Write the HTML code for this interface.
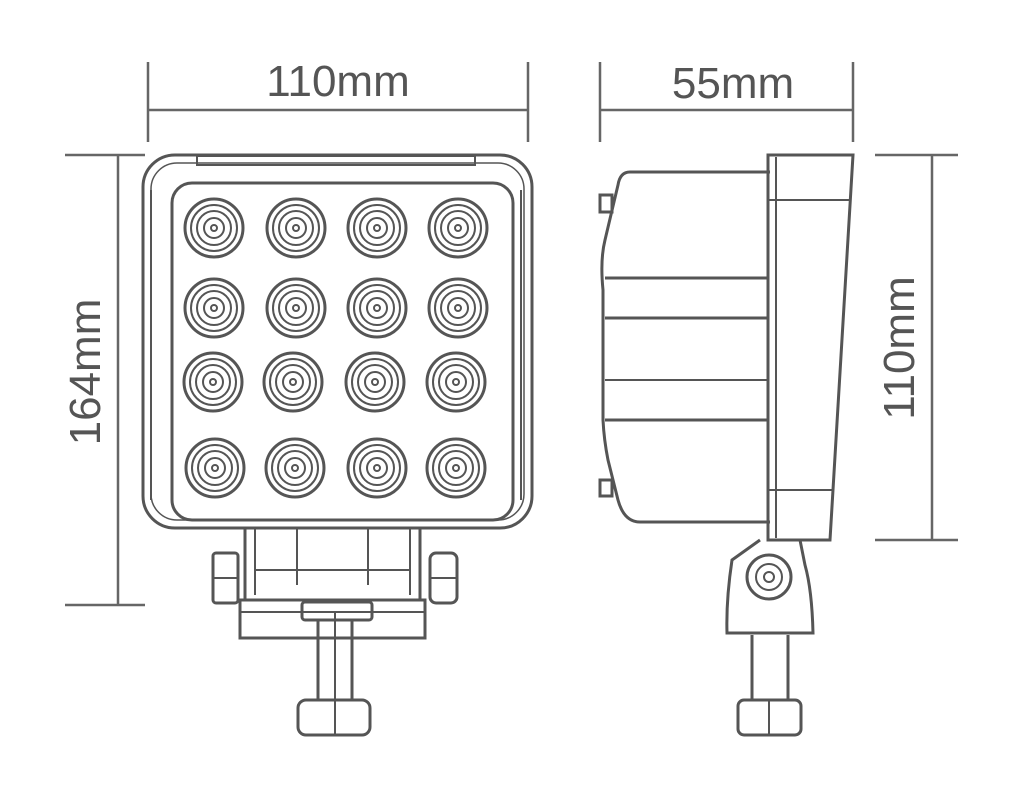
<!DOCTYPE html>
<html><head><meta charset="utf-8"><style>
html,body{margin:0;padding:0;background:#fff;}
svg{display:block;}
text{font-family:"Liberation Sans",sans-serif;fill:#555;}
</style></head><body>
<svg width="1020" height="800" viewBox="0 0 1020 800" xmlns="http://www.w3.org/2000/svg">
<defs>
<g id="led" fill="none" stroke="#555">
<circle cx="0" cy="0" r="29" stroke-width="3"/>
<circle cx="0" cy="0" r="23" stroke-width="2"/>
<circle cx="0" cy="0" r="17" stroke-width="2"/>
<circle cx="0" cy="0" r="10" stroke-width="2"/>
<circle cx="0" cy="0" r="3" stroke-width="2"/>
</g>
</defs>
<g stroke="#666" stroke-width="2.5" fill="none">
<line x1="148" y1="62" x2="148" y2="142"/><line x1="528" y1="62" x2="528" y2="142"/><line x1="148" y1="110" x2="528" y2="110"/>
<line x1="600" y1="62" x2="600" y2="142"/><line x1="853" y1="62" x2="853" y2="142"/><line x1="600" y1="110" x2="853" y2="110"/>
<line x1="65" y1="155" x2="145" y2="155"/><line x1="65" y1="605" x2="145" y2="605"/><line x1="118" y1="155" x2="118" y2="605"/>
<line x1="875" y1="155" x2="958" y2="155"/><line x1="875" y1="540" x2="958" y2="540"/><line x1="932" y1="155" x2="932" y2="540"/>
</g>
<text x="338" y="96" font-size="44" text-anchor="middle">110mm</text>
<text x="733" y="98" font-size="44" text-anchor="middle">55mm</text>
<text transform="translate(100,372) rotate(-90)" font-size="44" text-anchor="middle">164mm</text>
<text transform="translate(914,348) rotate(-90)" font-size="44" text-anchor="middle">110mm</text>

<g stroke="#555" stroke-width="3" fill="none">
<rect x="143" y="155" width="389" height="373" rx="32"/>
<rect x="151" y="163" width="373" height="357" rx="26" stroke-width="1.5"/>
<rect x="172" y="183" width="341" height="337" rx="20"/>
<rect x="197" y="156" width="278" height="9" stroke-width="2"/>
<line x1="151" y1="190" x2="151" y2="500" stroke-width="2"/>
<line x1="521" y1="190" x2="521" y2="500" stroke-width="2"/>
<line x1="245" y1="528" x2="245" y2="600"/><line x1="420" y1="528" x2="420" y2="600"/>
<line x1="255" y1="528" x2="255" y2="595" stroke-width="2"/><line x1="410" y1="528" x2="410" y2="595" stroke-width="2"/>
<line x1="297" y1="528" x2="297" y2="585" stroke-width="2"/><line x1="368" y1="528" x2="368" y2="585" stroke-width="2"/>
<line x1="255" y1="570" x2="410" y2="570" stroke-width="2"/>
<rect x="213" y="553" width="25" height="50" rx="3"/>
<line x1="213" y1="578" x2="238" y2="578" stroke-width="2"/>
<rect x="430" y="553" width="27" height="50" rx="6"/>
<line x1="430" y1="578" x2="457" y2="578" stroke-width="2"/>
<rect x="240" y="600" width="185" height="38"/>
<line x1="240" y1="612" x2="425" y2="612" stroke-width="2"/>
<rect x="302" y="602" width="70" height="18" rx="3"/>
<line x1="318" y1="620" x2="318" y2="700"/><line x1="352" y1="620" x2="352" y2="700"/>
<line x1="335" y1="612" x2="335" y2="735" stroke-width="2"/>
<rect x="298" y="700" width="72" height="35" rx="8"/>
</g>
<g fill="none">
<use href="#led" x="214" y="228"/><use href="#led" x="296" y="228"/><use href="#led" x="377" y="228"/><use href="#led" x="458" y="228"/>
<use href="#led" x="214" y="308"/><use href="#led" x="296" y="308"/><use href="#led" x="377" y="308"/><use href="#led" x="458" y="308"/>
<use href="#led" x="213" y="382"/><use href="#led" x="293" y="382"/><use href="#led" x="375" y="382"/><use href="#led" x="456" y="382"/>
<use href="#led" x="215" y="468"/><use href="#led" x="295" y="468"/><use href="#led" x="377" y="468"/><use href="#led" x="456" y="468"/>
</g>

<g stroke="#555" stroke-width="3" fill="none">
<path d="M770 172 L630 172 Q620 172 618 185 L605 240 Q600 260 603 290 L603 420 Q604 440 608 460 L618 500 Q624 522 640 522 L770 522"/>
<rect x="600" y="195" width="12" height="17"/>
<rect x="600" y="480" width="12" height="16"/>
<line x1="605" y1="278" x2="768" y2="278"/>
<line x1="605" y1="318" x2="768" y2="318"/>
<line x1="605" y1="380" x2="768" y2="380" stroke-width="2"/>
<line x1="605" y1="420" x2="768" y2="420"/>
<path d="M768 155 L853 155 L830 540 L768 540 Z"/>
<line x1="776" y1="157" x2="776" y2="538" stroke-width="2"/>
<line x1="768" y1="200" x2="850" y2="200" stroke-width="2"/>
<line x1="768" y1="490" x2="832" y2="490" stroke-width="2"/>
<path d="M760 540 L732 560 Q726 600 727 633 L813 633 Q812 590 805 565 L800 540"/>
<circle cx="769" cy="577" r="22"/>
<circle cx="769" cy="577" r="13" stroke-width="2"/>
<circle cx="769" cy="577" r="5" stroke-width="2"/>
<line x1="752" y1="635" x2="752" y2="700"/><line x1="788" y1="635" x2="788" y2="700"/>
<rect x="738" y="700" width="63" height="35" rx="6"/>
<line x1="769" y1="700" x2="769" y2="735" stroke-width="2"/>
</g>
</svg>
</body></html>
